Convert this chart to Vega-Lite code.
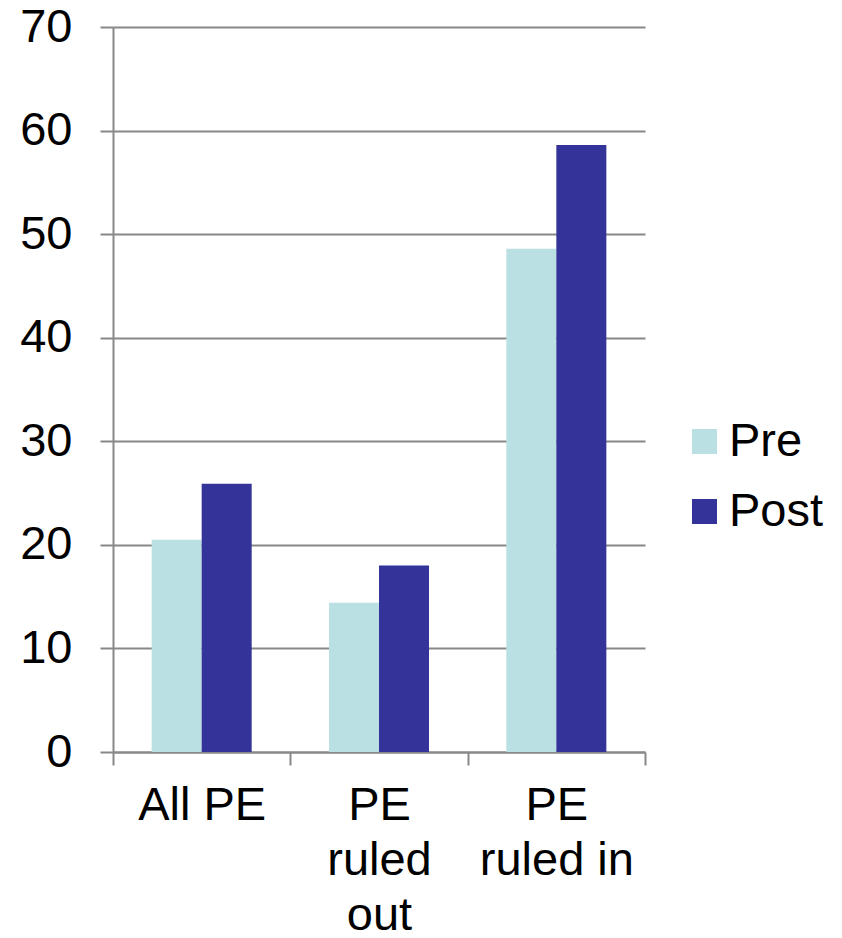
{
  "$schema": "https://vega.github.io/schema/vega-lite/v6.json",
  "width": 532,
  "height": 725,
  "autosize": {"type": "none"},
  "padding": {"left": 113, "top": 27, "right": 197, "bottom": 186},
  "background": "white",
  "config": {
    "view": {"stroke": null},
    "font": "Liberation Sans"
  },
  "data": {
    "values": [
      {"category": "All PE", "period": "Pre", "value": 20.5},
      {"category": "All PE", "period": "Post", "value": 25.9},
      {"category": "PE ruled out", "period": "Pre", "value": 14.4},
      {"category": "PE ruled out", "period": "Post", "value": 18.0},
      {"category": "PE ruled in", "period": "Pre", "value": 48.6},
      {"category": "PE ruled in", "period": "Post", "value": 58.6}
    ]
  },
  "mark": {"type": "bar"},
  "encoding": {
    "x": {
      "field": "category",
      "type": "nominal",
      "sort": ["All PE", "PE ruled out", "PE ruled in"],
      "scale": {"paddingInner": 0, "paddingOuter": 0},
      "axis": {
        "title": null,
        "labelAngle": 0,
        "labelFontSize": 47,
        "labelColor": "black",
        "labelPadding": 17,
        "labelLineHeight": 55,
        "labelBaseline": "top",
        "labelExpr": "datum.label == 'PE ruled out' ? ['PE', 'ruled', 'out'] : datum.label == 'PE ruled in' ? ['PE', 'ruled in'] : datum.label",
        "tickBand": "extent",
        "tickSize": 13,
        "tickColor": "#888888",
        "tickWidth": 2,
        "domainColor": "#888888",
        "domainWidth": 2,
        "grid": false
      }
    },
    "xOffset": {
      "field": "period",
      "type": "nominal",
      "sort": ["Pre", "Post"],
      "scale": {"paddingInner": 0, "paddingOuter": 0.773}
    },
    "y": {
      "field": "value",
      "type": "quantitative",
      "scale": {"domain": [0, 70], "nice": false},
      "axis": {
        "title": null,
        "values": [0, 10, 20, 30, 40, 50, 60, 70],
        "labelFontSize": 47,
        "labelColor": "black",
        "labelPadding": 28,
        "tickSize": 13,
        "tickColor": "#888888",
        "tickWidth": 2,
        "domainColor": "#888888",
        "domainWidth": 2,
        "grid": true,
        "gridColor": "#888888",
        "gridWidth": 2,
        "gridOpacity": 1
      }
    },
    "color": {
      "field": "period",
      "type": "nominal",
      "sort": ["Pre", "Post"],
      "scale": {"domain": ["Pre", "Post"], "range": ["#BBE0E3", "#333399"]},
      "legend": {
        "title": null,
        "orient": "none",
        "legendX": 568,
        "legendY": 391,
        "padding": 0,
        "symbolType": "square",
        "symbolSize": 625,
        "symbolStrokeWidth": 0,
        "symbolOpacity": 1,
        "labelFontSize": 47,
        "labelColor": "black",
        "labelOffset": 1,
        "rowPadding": 22,
        "labelLimit": 300
      }
    }
  }
}
